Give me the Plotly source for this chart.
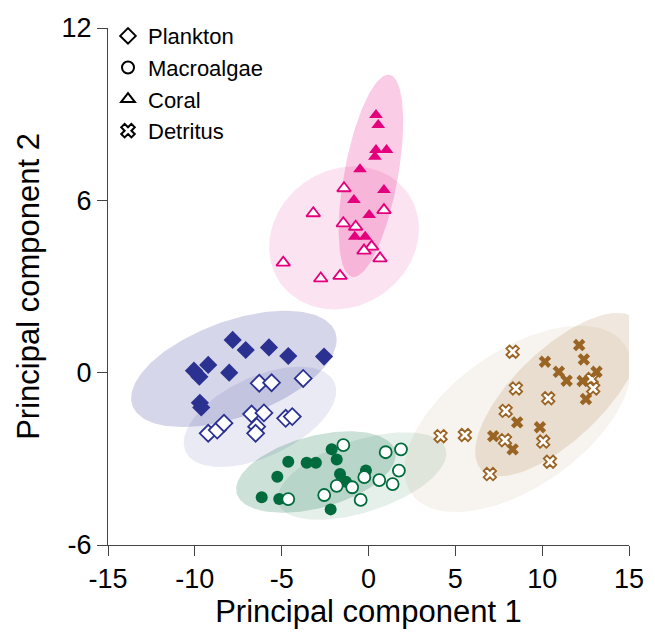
import numpy as np
import plotly.graph_objects as go

# ---------------- data ----------------
# Coral (triangles)
coral_filled_x = [0.43, 0.56, 0.43, 1.04, 0.37, -0.49, 0.89, -0.84, 0.04, -0.79, -0.19]
coral_filled_y = [8.97, 8.62, 7.75, 7.75, 7.52, 7.08, 6.36, 6.01, 5.49, 4.73, 4.73]
coral_open_x = [-1.41, -3.18, -1.45, -0.74, 0.89, 0.18, -0.26, 0.66, -4.91, -2.75, -1.64]
coral_open_y = [6.42, 5.55, 5.20, 5.08, 5.66, 4.39, 4.25, 3.98, 3.83, 3.28, 3.37]

# Plankton (diamonds)
plank_filled_x = [-7.82, -7.07, -5.73, -4.62, -2.56, -9.23, -10.05, -9.74, -8.02, -9.71, -9.63]
plank_filled_y = [1.14, 0.79, 0.88, 0.58, 0.56, 0.27, 0.07, -0.14, 0.00, -1.05, -1.21]
plank_open_x = [-9.23, -8.71, -8.32, -6.29, -5.58, -3.76, -6.73, -6.02, -6.44, -6.50, -4.77, -4.39]
plank_open_y = [-2.11, -2.00, -1.76, -0.37, -0.35, -0.20, -1.44, -1.40, -1.88, -2.11, -1.59, -1.53]

# Macroalgae (circles)
macro_filled_x = [-2.12, -1.83, -4.62, -3.56, -3.03, -5.25, -1.64, -1.30, -0.15, -6.15, -5.14, -2.18]
macro_filled_y = [-2.67, -3.02, -3.10, -3.14, -3.14, -3.62, -3.53, -3.80, -3.41, -4.34, -4.40, -4.76]
macro_open_x = [-1.45, 0.99, 1.87, 1.75, -0.24, 0.62, 1.39, -1.83, -0.94, -2.55, -0.45, -4.62]
macro_open_y = [-2.52, -2.77, -2.67, -3.41, -3.64, -3.74, -3.88, -3.94, -3.99, -4.26, -4.43, -4.40]

# Detritus (crosses)
detr_filled_x = [12.13, 12.40, 10.16, 10.96, 11.41, 13.13, 12.33, 12.52, 8.56, 9.87, 7.18, 8.30]
detr_filled_y = [0.96, 0.46, 0.38, 0.03, -0.28, 0.03, -0.29, -0.92, -1.73, -1.90, -2.21, -2.67]
detr_open_x = [8.30, 8.49, 10.35, 7.90, 4.15, 5.55, 7.86, 10.06, 10.45, 6.99, 12.85, 12.94]
detr_open_y = [0.73, -0.55, -0.89, -1.33, -2.21, -2.17, -2.35, -2.40, -3.10, -3.53, -0.22, -0.55]

# Ellipses: centre (cx, cy), first semi-axis vector (ux, uy), second semi-axis vector (vx, vy)
ell_names = ["coral_open", "coral_filled", "plank_filled", "plank_open",
             "macro_filled", "macro_open", "detr_open", "detr_filled"]
ell_cx = [-1.41, 0.14, -7.75, -6.25, -3.03, -0.38, 8.60, 10.96]
ell_cy = [4.69, 6.85, 0.13, -1.54, -3.46, -3.60, -1.61, -0.76]
ell_ux = [3.68, 1.07, 5.84, 4.28, 4.56, 4.82, 6.13, 4.47]
ell_uy = [1.56, 3.52, 1.28, 1.21, 0.74, 0.95, 2.60, 2.61]
ell_vx = [2.25, 1.52, 0.94, 0.97, 0.54, 0.64, 2.25, 1.80]
ell_vy = [-1.94, -0.17, -1.57, -1.26, -1.21, -1.19, -1.94, -1.13]

legend_names = ["Plankton", "Macroalgae", "Coral", "Detritus"]

x_ticks = [-15, -10, -5, 0, 5, 10, 15]
y_ticks = [-6, 0, 6, 12]

# ---------------- styles ----------------
MAG = "#E4007C"
NAVY = "#2B3190"
GREEN = "#006B3C"
BROWN = "#9A6424"

ell_fill = {
    "coral_open": "rgba(228,0,124,0.11)",
    "coral_filled": "rgba(228,0,124,0.20)",
    "plank_filled": "rgba(43,49,144,0.20)",
    "plank_open": "rgba(43,49,144,0.10)",
    "macro_filled": "rgba(0,107,60,0.20)",
    "macro_open": "rgba(0,107,60,0.10)",
    "detr_open": "rgba(154,100,36,0.08)",
    "detr_filled": "rgba(154,100,36,0.15)",
}

fig = go.Figure()

t = np.linspace(0, 2 * np.pi, 181)
for i, name in enumerate(ell_names):
    ex = ell_cx[i] + ell_ux[i] * np.cos(t) + ell_vx[i] * np.sin(t)
    ey = ell_cy[i] + ell_uy[i] * np.cos(t) + ell_vy[i] * np.sin(t)
    fig.add_trace(go.Scatter(x=ex, y=ey, mode="lines", fill="toself",
                             fillcolor=ell_fill[name], line=dict(width=0),
                             hoverinfo="skip", showlegend=False))


def filled(x, y, sym, col, size):
    fig.add_trace(go.Scatter(x=x, y=y, mode="markers", showlegend=False,
                             marker=dict(symbol=sym, color=col, size=size,
                                         line=dict(width=0))))


def hollow(x, y, sym, col, size):
    fig.add_trace(go.Scatter(x=x, y=y, mode="markers", showlegend=False,
                             marker=dict(symbol=sym, color="white", size=size,
                                         line=dict(width=1.8, color=col))))


hollow(plank_open_x, plank_open_y, "diamond", NAVY, 13)
filled(plank_filled_x, plank_filled_y, "diamond", NAVY, 14)
filled(macro_filled_x, macro_filled_y, "circle", GREEN, 12)
hollow(macro_open_x, macro_open_y, "circle", GREEN, 12)
hollow(coral_open_x, coral_open_y, "triangle-up", MAG, 12)
filled(coral_filled_x, coral_filled_y, "triangle-up", MAG, 12)
hollow(detr_open_x, detr_open_y, "x", BROWN, 11)
filled(detr_filled_x, detr_filled_y, "x", BROWN, 11)

leg_syms = ["diamond-open", "circle-open", "triangle-up-open", "x-open"]
for name, sym in zip(legend_names, leg_syms):
    fig.add_trace(go.Scatter(x=[None], y=[None], mode="markers", name=name,
                             marker=dict(symbol=sym, color="black", size=11,
                                         line=dict(width=2, color="black"))))

FONT = "Liberation Sans, Arial, Helvetica, sans-serif"
axis_common = dict(showline=True, linecolor="#444", linewidth=1,
                   ticks="outside", ticklen=10, tickcolor="#444", tickwidth=1,
                   showgrid=False, zeroline=False,
                   tickfont=dict(family=FONT, size=27, color="black"),
                   title_font=dict(family=FONT, size=31, color="black"))

fig.update_layout(
    width=647, height=633,
    margin=dict(l=100, r=26, t=20, b=96, autoexpand=False),
    paper_bgcolor="white", plot_bgcolor="white",
    font=dict(family=FONT, color="black"),
    showlegend=True,
    legend=dict(x=0.0, y=1.025, xanchor="left", yanchor="top",
                font=dict(family=FONT, size=22, color="black"),
                bgcolor="rgba(0,0,0,0)", tracegroupgap=0, itemsizing="constant"),
    xaxis=dict(range=[-15, 15], tickvals=x_ticks,
               ticktext=[str(v) for v in x_ticks],
               title=dict(text="Principal component 1", standoff=0), **axis_common),
    yaxis=dict(range=[-6, 12], tickvals=y_ticks,
               ticktext=[str(v) for v in y_ticks],
               title=dict(text="Principal component 2", standoff=12), **axis_common),
)

fig.write_html("out.html")
